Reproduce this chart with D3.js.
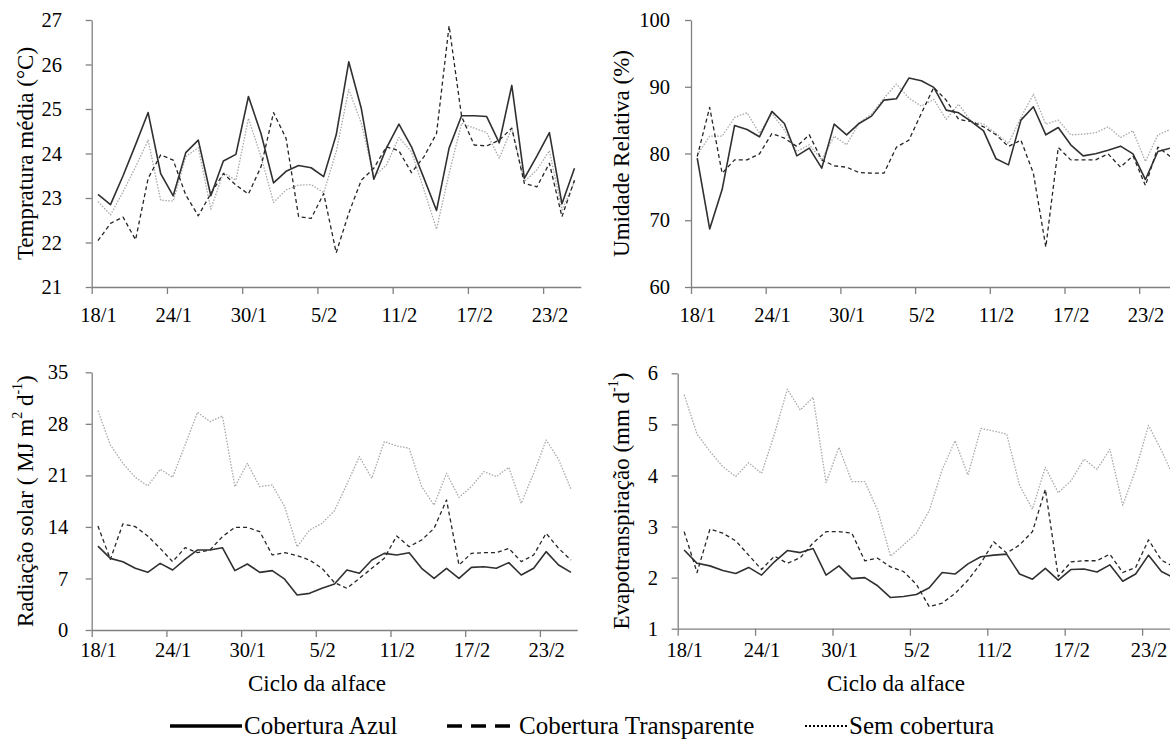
<!DOCTYPE html>
<html><head><meta charset="utf-8">
<script src="https://cdn.jsdelivr.net/npm/d3@7"></script>
<style>
body{margin:0;background:#fff}
svg{display:block}
</style>
</head><body>
<svg id="chart" width="1170" height="755"></svg>
<script>
const FONT="'Liberation Serif','Times New Roman',Times,'DejaVu Serif',serif";
// days of the lettuce cycle, 18/1 .. 25/2
const dias=["18/1","19/1","20/1","21/1","22/1","23/1","24/1","25/1","26/1","27/1","28/1","29/1","30/1","31/1",
  "1/2","2/2","3/2","4/2","5/2","6/2","7/2","8/2","9/2","10/2","11/2","12/2","13/2","14/2","15/2","16/2",
  "17/2","18/2","19/2","20/2","21/2","22/2","23/2","24/2","25/2"];
const labelDias=["18/1","24/1","30/1","5/2","11/2","17/2","23/2"];
const series=["Cobertura Azul","Cobertura Transparente","Sem cobertura"];

// temperatura média (°C)
const tempAzul=[23.08,22.85,23.5,24.2,24.92,23.55,23.05,24.02,24.3,23.05,23.83,23.98,25.28,24.45,23.34,23.6,23.73,23.68,23.48,24.42,26.06,25.01,23.42,24.12,24.66,24.15,23.44,22.72,24.12,24.85,24.85,24.83,24.24,25.53,23.44,23.94,24.47,22.87,23.67];
const tempTransp=[22.04,22.43,22.57,22.06,23.44,23.97,23.85,23.07,22.6,23.1,23.55,23.29,23.09,23.7,24.92,24.34,22.58,22.54,23.1,21.77,22.66,23.4,23.67,24.15,24.06,23.57,23.93,24.45,26.87,24.83,24.19,24.17,24.3,24.57,23.33,23.25,23.78,22.58,23.4];
const tempSem=[22.92,22.62,23.14,23.7,24.3,22.95,22.93,23.93,24.13,22.75,23.57,23.4,24.79,23.93,22.9,23.18,23.29,23.3,23.12,24.04,25.44,24.68,23.48,23.74,24.36,24.04,23.18,22.3,23.55,24.68,24.57,24.47,23.89,24.57,23.37,23.63,24.06,22.73,23.37];
// umidade relativa (%)
const urAzul=[79.3,68.7,74.6,84.2,83.6,82.5,86.3,84.5,79.65,80.8,77.8,84.4,82.8,84.5,85.6,88.0,88.2,91.3,90.9,89.9,86.5,86.1,84.8,83.4,79.2,78.3,85.0,87.0,82.8,83.9,81.3,79.65,79.95,80.5,81.1,79.95,76.1,80.3,80.8];
const urTransp=[79.55,86.9,77.05,79.05,79.05,79.95,83.0,82.3,81.05,82.8,79.05,78.15,77.95,77.15,77.05,77.05,80.95,82.0,86.0,89.9,88.0,85.1,84.8,84.0,82.8,81.05,82.0,77.05,66.0,80.9,79.05,79.05,79.05,79.95,77.95,79.65,75.2,80.95,79.55];
const urSem=[79.8,82.6,82.6,85.4,86.1,83.0,86.0,83.5,80.3,81.3,79.05,82.6,81.3,84.6,85.9,88.3,90.4,88.3,87.1,88.1,85.1,87.4,84.8,84.4,83.0,81.5,85.4,88.9,84.4,85.0,82.8,82.9,83.1,84.0,82.4,83.4,78.8,82.8,83.6];
// radiação solar (MJ m2 d-1)
const radAzul=[11.4,9.73,9.28,8.38,7.83,9.05,8.15,9.6,10.87,10.87,11.18,8.06,8.96,7.83,8.06,6.9,4.75,4.98,5.66,6.25,8.15,7.7,9.5,10.41,10.19,10.5,8.38,7.02,8.38,7.02,8.51,8.6,8.38,9.15,7.47,8.38,10.64,8.83,7.83];
const radTransp=[14.13,9.6,14.4,14.04,12.77,11.09,9.28,11.18,10.5,10.87,12.68,13.94,13.94,13.36,10.19,10.5,10.1,9.5,8.38,6.43,5.66,7.02,8.38,9.73,12.77,11.32,12.22,13.81,17.66,8.83,10.41,10.5,10.5,11.09,9.28,10.19,13.13,11.09,9.5];
const radSem=[29.8,25.13,22.64,20.74,19.56,21.82,20.74,25.13,29.57,28.3,29.07,19.47,22.64,19.47,19.7,16.75,11.3,13.58,14.49,16.2,19.83,23.54,20.6,25.58,24.99,24.68,19.47,16.98,21.28,18.02,19.47,21.51,20.83,22.09,17.2,21.28,25.8,23.18,19.1];
// evapotranspiração (mm d-1)
const etAzul=[2.54,2.28,2.23,2.14,2.08,2.2,2.05,2.31,2.53,2.49,2.57,2.05,2.23,1.98,2.0,1.84,1.61,1.63,1.67,1.8,2.1,2.07,2.27,2.41,2.44,2.46,2.07,1.97,2.18,1.95,2.16,2.17,2.11,2.25,1.93,2.07,2.44,2.12,1.99];
const etTransp=[2.9,2.1,2.95,2.87,2.72,2.44,2.16,2.42,2.28,2.39,2.68,2.9,2.9,2.87,2.33,2.38,2.21,2.12,1.87,1.43,1.5,1.69,1.95,2.28,2.7,2.48,2.64,2.9,3.73,2.02,2.31,2.33,2.33,2.46,2.1,2.2,2.74,2.34,2.21];
const etSem=[5.58,4.81,4.47,4.17,3.98,4.25,4.04,4.81,5.69,5.28,5.53,3.86,4.55,3.88,3.88,3.32,2.42,2.64,2.87,3.31,4.11,4.68,4.01,4.92,4.87,4.81,3.81,3.34,4.16,3.66,3.9,4.32,4.12,4.51,3.42,4.11,4.98,4.49,3.94];

const tempTicks=[21,22,23,24,25,26,27], urTicks=[60,70,80,90,100],
      radTicks=[0,7,14,21,28,35], etTicks=[1,2,3,4,5,6];

const styles=[
  {stroke:'#303030',width:1.6,dash:null},
  {stroke:'#262626',width:1.3,dash:'4,3'},
  {stroke:'#a8a8a8',width:1.3,dash:'1.5,1.5'}
];

// panel layout (pixel frame of each plot area)
const panels=[
  {data:[tempAzul,tempTransp,tempSem],ticks:tempTicks,x0:91.7,dw:12.54,top:20,bot:287,pad:23.7,
   title:['Tempratura média (°C)'],tx:25,lab:322,xtitle:false},
  {data:[urAzul,urTransp,urSem],ticks:urTicks,x0:691,dw:12.45,top:20,bot:287,pad:15,
   title:['Umidade Relativa (%)'],tx:621,lab:322,xtitle:false},
  {data:[radAzul,radTransp,radSem],ticks:radTicks,x0:91.7,dw:12.45,top:372.3,bot:630,pad:17.4,
   title:['Radiação solar ( MJ m',{sup:'2'},' d',{sup:'-1'},')'],tx:25,lab:657,xtitle:true,cx:317},
  {data:[etAzul,etTransp,etSem],ticks:etTicks,x0:677.7,dw:12.9,top:373.3,bot:628.7,pad:13.7,
   title:['Evapotranspiração (mm d',{sup:'-1'},')'],tx:621,lab:657,xtitle:true,cx:896}
];

const svg=d3.select('#chart');

panels.forEach(p=>{
  const g=svg.append('g');
  const x=d3.scaleLinear().domain([0,dias.length]).range([p.x0,p.x0+dias.length*p.dw]);
  const y=d3.scaleLinear().domain(d3.extent(p.ticks)).range([p.bot,p.top]);

  // y axis
  const ya=g.append('g').attr('transform',`translate(${p.x0},0)`)
    .call(d3.axisLeft(y).tickValues(p.ticks).tickFormat(d3.format('d')).tickSize(6).tickSizeOuter(0).tickPadding(p.pad));
  ya.select('.domain').attr('stroke','#808080').attr('stroke-width',1.3);
  ya.selectAll('.tick line').attr('stroke','#808080').attr('stroke-width',1.3);
  ya.selectAll('text').style('font-size','20.5px');

  // x axis: tick marks on category boundaries, labels on category centres
  const xa=g.append('g').attr('transform',`translate(0,${p.bot})`)
    .call(d3.axisBottom(x).tickValues(d3.range(0,dias.length,6)).tickSize(7).tickSizeOuter(0).tickFormat(''));
  xa.select('.domain').attr('stroke','#808080').attr('stroke-width',1.3);
  xa.selectAll('.tick line').attr('stroke','#808080').attr('stroke-width',1.3);
  const xl=g.append('g').attr('transform',`translate(0,${p.lab})`)
    .call(d3.axisBottom(x).tickValues(labelDias.map(d=>dias.indexOf(d)+0.5)).tickSize(0).tickPadding(0)
      .tickFormat(v=>dias[v-0.5]));
  xl.select('.domain').remove();
  xl.selectAll('text').attr('dy',0).style('font-size','20.5px');

  // series lines, drawn last series first so the solid one sits on top
  const line=d3.line().x((d,i)=>x(i+0.5)).y(d=>y(d));
  [2,1,0].forEach(si=>{
    const st=styles[si];
    g.append('path').datum(p.data[si]).attr('d',line).attr('fill','none')
      .attr('stroke',st.stroke).attr('stroke-width',st.width)
      .attr('stroke-dasharray',st.dash).attr('stroke-linejoin','round');
  });

  // y title
  const t=g.append('text').attr('transform',`translate(${p.tx},${(p.top+p.bot)/2}) rotate(-90)`)
    .attr('text-anchor','middle').attr('dominant-baseline','central').style('font-size','23px');
  p.title.forEach(part=>{
    if(typeof part==='string') t.append('tspan').text(part);
    else t.append('tspan').attr('baseline-shift','super').style('font-size','14px').text(part.sup);
  });

  if(p.xtitle){
    g.append('text').attr('x',p.cx).attr('y',691)
      .attr('text-anchor','middle').style('font-size','23px').text('Ciclo da alface');
  }
});

// legend
const legY=726;
const legItems=[{x0:170,x1:242,tx:244},{x0:447,x1:510,tx:519},{x0:805,x1:847,tx:849}];
const lstyle=[{dash:null,w:3.4},{dash:'15,9',w:3.4},{dash:'2,2',w:2.2}];
const lg=svg.append('g');
series.forEach((s,i)=>{
  const it=legItems[i];
  lg.append('line').attr('x1',it.x0).attr('x2',it.x1).attr('y1',legY).attr('y2',legY)
    .attr('stroke','#000').attr('stroke-width',lstyle[i].w).attr('stroke-dasharray',lstyle[i].dash);
  lg.append('text').attr('x',it.tx).attr('y',legY+8).style('font-size','25px').text(s);
});

svg.selectAll('text').style('font-family',FONT).attr('fill','#000');
</script>
</body></html>
